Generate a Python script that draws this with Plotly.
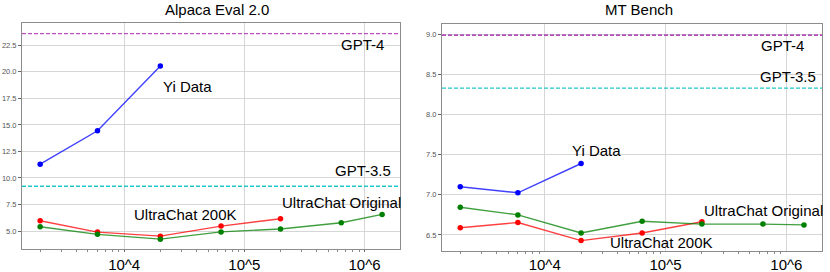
import plotly.graph_objects as go

# ---------------- data ----------------
x_yi = [2000, 6000, 20000]
x_uc200k = [2000, 6000, 20000, 64000, 200000]
x_ucorig = [2000, 6000, 20000, 64000, 200000, 640000, 1400000]

alpaca_yi = [11.3, 14.45, 20.55]
alpaca_uc200k = [5.97, 4.9, 4.52, 5.47, 6.16]
alpaca_ucorig = [5.4, 4.69, 4.24, 4.92, 5.2, 5.78, 6.57]
alpaca_gpt4 = 23.6
alpaca_gpt35 = 9.22

mt_yi = [7.10, 7.025, 7.39]
mt_uc200k = [6.59, 6.655, 6.43, 6.525, 6.665]
mt_ucorig = [6.845, 6.75, 6.525, 6.67, 6.635, 6.635, 6.625]
mt_gpt4 = 8.99
mt_gpt35 = 8.33

titles = ["Alpaca Eval 2.0", "MT Bench"]
xtick_vals = [1e4, 1e5, 1e6]
xtick_text = ["10^4", "10^5", "10^6"]
alpaca_yticks = [5.0, 7.5, 10.0, 12.5, 15.0, 17.5, 20.0, 22.5]
mt_yticks = [6.5, 7.0, 7.5, 8.0, 8.5, 9.0]

FONT = "Liberation Sans, Arial, sans-serif"
BLUE = "rgba(0,0,255,0.75)"
RED = "rgba(255,0,0,0.75)"
GREEN = "rgba(0,128,0,0.75)"

fig = go.Figure()

def add_series(xs, ys, line_color, marker_color, xa, ya):
    fig.add_trace(go.Scatter(
        x=xs, y=ys, mode="lines+markers",
        line=dict(color=line_color, width=1.4),
        marker=dict(color=marker_color, size=5.5),
        xaxis=xa, yaxis=ya, showlegend=False, hoverinfo="skip"))

add_series(x_yi, alpaca_yi, BLUE, "blue", "x", "y")
add_series(x_uc200k, alpaca_uc200k, RED, "red", "x", "y")
add_series(x_ucorig, alpaca_ucorig, GREEN, "green", "x", "y")
add_series(x_yi, mt_yi, BLUE, "blue", "x2", "y2")
add_series(x_uc200k, mt_uc200k, RED, "red", "x2", "y2")
add_series(x_ucorig, mt_ucorig, GREEN, "green", "x2", "y2")

minor_vals = []
for d in [1e3, 1e4, 1e5, 1e6]:
    for k in range(2, 10):
        minor_vals.append(d * k)

xaxis_common = dict(
    type="log", range=[3.15, 6.295], automargin=False,
    tickvals=xtick_vals, ticktext=xtick_text,
    tickfont=dict(family=FONT, size=15, color="black"),
    ticks="outside", tickcolor="#666",
    showgrid=True, gridcolor="#d6d6d6", gridwidth=1,
    showline=True, linecolor="#8c8c8c", linewidth=1, mirror=True,
    minor=dict(tickvals=minor_vals, ticks="outside", ticklen=2, tickcolor="#888", showgrid=False),
    zeroline=False, ticklabelstandoff=0,
)
yaxis_common = dict(
    automargin=False,
    tickfont=dict(family=FONT, size=7.5, color="#555"),
    ticks="outside", ticklen=3, tickcolor="#666",
    showgrid=True, gridcolor="#d6d6d6", gridwidth=1,
    showline=True, linecolor="#8c8c8c", linewidth=1, mirror=True,
    zeroline=False,
)

H = 272.0
W = 830.0
fig.update_layout(
    width=830, height=272,
    margin=dict(l=0, r=0, t=0, b=0),
    paper_bgcolor="white", plot_bgcolor="white",
    font=dict(family=FONT),
    xaxis=dict(domain=[22 / W, 400 / W], anchor="y", ticklen=2, **xaxis_common),
    yaxis=dict(domain=[1 - 249 / H, 1 - 23 / H], anchor="x", range=[3.31, 24.6],
               tickvals=alpaca_yticks, ticktext=[f"{v:.1f}" for v in alpaca_yticks], **yaxis_common),
    xaxis2=dict(domain=[442 / W, 822 / W], anchor="y2", ticklen=0, **xaxis_common),
    yaxis2=dict(domain=[1 - 251 / H, 1 - 24 / H], anchor="x2", range=[6.30, 9.128],
                tickvals=mt_yticks, ticktext=[f"{v:.1f}" for v in mt_yticks], **yaxis_common),
)

shapes = []
for xr, yr, yv, col in [("x", "y", alpaca_gpt4, "#c050c0"), ("x", "y", alpaca_gpt35, "#20c8c8"),
                        ("x2", "y2", mt_gpt4, "#a010a8"), ("x2", "y2", mt_gpt35, "#20c8c8")]:
    shapes.append(dict(type="line", xref=f"{xr} domain", yref=yr, x0=0, x1=1, y0=yv, y1=yv,
                       line=dict(color=col, width=1.3, dash="4px,2px")))
fig.update_layout(shapes=shapes)

annots = []
def lab(text, lx, y, xr, yr):
    annots.append(dict(text=text, x=lx, y=y, xref=xr, yref=yr, xanchor="left", yanchor="middle",
                       showarrow=False, font=dict(family=FONT, size=15, color="black")))

lab("Yi Data", 4.307, 18.6, "x", "y")
lab("GPT-4", 5.784, 22.56, "x", "y")
lab("GPT-3.5", 5.734, 10.66, "x", "y")
lab("UltraChat 200K", 4.064, 6.6, "x", "y")
lab("UltraChat Original", 5.30, 7.65, "x", "y")

lab("Yi Data", 4.208, 7.55, "x2", "y2")
lab("GPT-4", 5.777, 8.854, "x2", "y2")
lab("GPT-3.5", 5.766, 8.475, "x2", "y2")
lab("UltraChat Original", 5.304, 6.80, "x2", "y2")
lab("UltraChat 200K", 4.52, 6.41, "x2", "y2")

annots.append(dict(text=titles[0], x=217 / W, y=1 - 9.5 / H, xref="paper", yref="paper",
                   xanchor="center", yanchor="middle", showarrow=False,
                   font=dict(family=FONT, size=15, color="black")))
annots.append(dict(text=titles[1], x=638.5 / W, y=1 - 9.5 / H, xref="paper", yref="paper",
                   xanchor="center", yanchor="middle", showarrow=False,
                   font=dict(family=FONT, size=15, color="black")))
fig.update_layout(annotations=annots)

fig.write_html("out.html", config={"displayModeBar": False},
               post_script="document.body.style.margin='0';document.body.style.overflow='hidden';")
